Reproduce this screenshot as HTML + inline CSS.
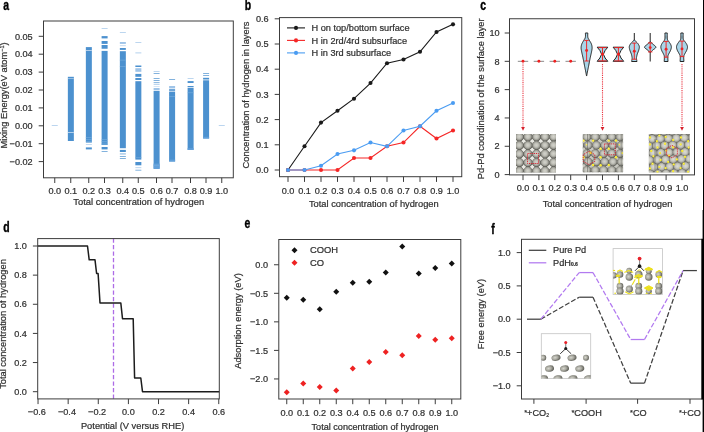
<!DOCTYPE html><html><head><meta charset="utf-8"><title>figure</title><style>html,body{margin:0;padding:0;background:#fff;overflow:hidden}svg{display:block;will-change:transform}text{font-family:"Liberation Sans",sans-serif;fill:#303030;stroke:#303030;stroke-width:0.22px}</style></head><body><svg width="704" height="432" viewBox="0 0 704 432"><rect width="704" height="432" fill="#fff"/>
<defs><radialGradient id="gs" cx="48%" cy="46%" r="52%"><stop offset="0" stop-color="#d4d4cc"/><stop offset="0.45" stop-color="#c0c0b8"/><stop offset="0.75" stop-color="#9a9a92"/><stop offset="1" stop-color="#5c5c56"/></radialGradient><radialGradient id="gs2" cx="40%" cy="45%" r="60%"><stop offset="0" stop-color="#d6d6ce"/><stop offset="0.5" stop-color="#a9a9a0"/><stop offset="1" stop-color="#5c5c55"/></radialGradient><radialGradient id="gs3" cx="48%" cy="46%" r="52%"><stop offset="0" stop-color="#dcdcd4"/><stop offset="0.5" stop-color="#c9c9c1"/><stop offset="0.8" stop-color="#a6a69e"/><stop offset="1" stop-color="#6e6e68"/></radialGradient><radialGradient id="ys" cx="45%" cy="40%" r="60%"><stop offset="0" stop-color="#fff85e"/><stop offset="1" stop-color="#efdc08"/></radialGradient></defs>
<text transform="translate(3.2,9.9) scale(0.72,1)" font-size="14.5" font-weight="bold" style="fill:#000;stroke:#000;stroke-width:0.4px;stroke-linejoin:round">a</text>
<rect x="67.85" y="76.8" width="6" height="64.20" fill="#4c91cf"/>
<rect x="85.85" y="47.1" width="6" height="95.50" fill="#4c91cf"/>
<rect x="85.85" y="144.4" width="6" height="0.60" fill="#9fc4e8"/>
<rect x="85.85" y="147.4" width="6" height="2.00" fill="#4c91cf"/>
<rect x="101.60" y="50.9" width="6" height="94.10" fill="#4c91cf"/>
<rect x="101.60" y="28.0" width="6" height="0.70" fill="#9fc4e8"/>
<rect x="101.60" y="36.1" width="6" height="2.30" fill="#4c91cf"/>
<rect x="101.60" y="41" width="6" height="2.90" fill="#4c91cf"/>
<rect x="101.60" y="45" width="6" height="3.75" fill="#4c91cf"/>
<rect x="101.60" y="147" width="6" height="2.40" fill="#4c91cf"/>
<rect x="101.60" y="151.2" width="6" height="0.70" fill="#4c91cf"/>
<rect x="119.85" y="51.2" width="6" height="97.00" fill="#4c91cf"/>
<rect x="119.85" y="32.1" width="6" height="0.70" fill="#9fc4e8"/>
<rect x="119.85" y="42" width="6" height="1.90" fill="#9fc4e8"/>
<rect x="119.85" y="45.5" width="6" height="0.60" fill="#9fc4e8"/>
<rect x="119.85" y="48" width="6" height="1.90" fill="#4c91cf"/>
<rect x="119.85" y="149.9" width="6" height="2.10" fill="#4c91cf"/>
<rect x="119.85" y="153.6" width="6" height="0.70" fill="#4c91cf"/>
<rect x="119.85" y="156" width="6" height="0.70" fill="#4c91cf"/>
<rect x="119.85" y="158" width="6" height="0.70" fill="#4c91cf"/>
<rect x="135.35" y="81.2" width="6" height="78.40" fill="#4c91cf"/>
<rect x="135.35" y="42.3" width="6" height="0.70" fill="#9fc4e8"/>
<rect x="135.35" y="52.2" width="6" height="1.30" fill="#c5dcf2"/>
<rect x="135.35" y="65.5" width="6" height="1.50" fill="#4c91cf"/>
<rect x="135.35" y="68.2" width="6" height="3.60" fill="#9fc4e8"/>
<rect x="135.35" y="73.9" width="6" height="2.90" fill="#4c91cf"/>
<rect x="135.35" y="78" width="6" height="2.00" fill="#4c91cf"/>
<rect x="135.35" y="162" width="6" height="3.30" fill="#4c91cf"/>
<rect x="135.35" y="167.4" width="6" height="0.70" fill="#9fc4e8"/>
<rect x="135.35" y="169.8" width="6" height="0.70" fill="#4c91cf"/>
<rect x="153.60" y="90.8" width="6" height="78.00" fill="#4c91cf"/>
<rect x="153.60" y="71.1" width="6" height="0.70" fill="#9fc4e8"/>
<rect x="153.60" y="73.2" width="6" height="0.70" fill="#4c91cf"/>
<rect x="153.60" y="78" width="6" height="0.70" fill="#4c91cf"/>
<rect x="153.60" y="80.3" width="6" height="0.70" fill="#4c91cf"/>
<rect x="153.60" y="82.4" width="6" height="0.70" fill="#4c91cf"/>
<rect x="153.60" y="84" width="6" height="0.70" fill="#9fc4e8"/>
<rect x="153.60" y="86" width="6" height="0.70" fill="#c5dcf2"/>
<rect x="153.60" y="88" width="6" height="2.00" fill="#9fc4e8"/>
<rect x="169.10" y="91.6" width="6" height="69.90" fill="#4c91cf"/>
<rect x="169.10" y="79.2" width="6" height="0.70" fill="#4c91cf"/>
<rect x="169.10" y="86" width="6" height="2.40" fill="#9fc4e8"/>
<rect x="169.10" y="89.2" width="6" height="1.60" fill="#4c91cf"/>
<rect x="187.60" y="87.9" width="6" height="62.00" fill="#4c91cf"/>
<rect x="187.60" y="78.3" width="6" height="0.70" fill="#9fc4e8"/>
<rect x="187.60" y="81.1" width="6" height="1.90" fill="#4c91cf"/>
<rect x="187.60" y="86" width="6" height="1.20" fill="#4c91cf"/>
<rect x="203.10" y="80.3" width="6" height="58.20" fill="#4c91cf"/>
<rect x="203.10" y="73" width="6" height="0.70" fill="#4c91cf"/>
<rect x="203.10" y="75.3" width="6" height="0.70" fill="#4c91cf"/>
<rect x="203.10" y="77.8" width="6" height="1.70" fill="#4c91cf"/>
<rect x="67.85" y="78.2" width="6" height="0.50" fill="#dfeaf6"/>
<rect x="67.85" y="132.1" width="6" height="0.70" fill="#dfeaf6"/>
<rect x="85.85" y="50.2" width="6" height="0.70" fill="#dfeaf6"/>
<rect x="85.85" y="137.2" width="6" height="0.60" fill="#77aede"/>
<rect x="85.85" y="139.2" width="6" height="0.60" fill="#77aede"/>
<rect x="85.85" y="141.0" width="6" height="0.60" fill="#77aede"/>
<rect x="101.60" y="139.4" width="6" height="0.60" fill="#77aede"/>
<rect x="101.60" y="141.0" width="6" height="0.60" fill="#77aede"/>
<rect x="101.60" y="142.8" width="6" height="0.60" fill="#77aede"/>
<rect x="101.60" y="144.2" width="6" height="0.50" fill="#77aede"/>
<rect x="119.85" y="59.8" width="6" height="0.60" fill="#77aede"/>
<rect x="119.85" y="66.3" width="6" height="0.60" fill="#77aede"/>
<rect x="153.60" y="163.6" width="6" height="5.20" fill="#62a0da"/>
<rect x="153.60" y="165.5" width="6" height="0.50" fill="#77aede"/>
<rect x="169.10" y="159.6" width="6" height="1.90" fill="#62a0da"/>
<rect x="169.10" y="96.2" width="6" height="0.60" fill="#77aede"/>
<rect x="187.60" y="148.2" width="6" height="1.70" fill="#62a0da"/>
<rect x="187.60" y="92.5" width="6" height="0.60" fill="#77aede"/>
<rect x="203.10" y="136.8" width="6" height="1.70" fill="#62a0da"/>
<rect x="135.35" y="157.5" width="6" height="0.50" fill="#77aede"/>
<rect x="51.75" y="125.15" width="6" height="0.7" fill="#9fc4e8"/>
<rect x="218.75" y="125.15" width="6" height="0.7" fill="#9fc4e8"/>
<rect x="43.5" y="21" width="189.8" height="156.8" fill="none" stroke="#3c3c3c" stroke-width="1"/>
<line x1="54.75" y1="177.8" x2="54.75" y2="183.0" stroke="#3c3c3c" stroke-width="1"/>
<text x="54.75" y="194.2" text-anchor="middle" font-size="9.15">0.0</text>
<line x1="70.75" y1="177.8" x2="70.75" y2="183.0" stroke="#3c3c3c" stroke-width="1"/>
<text x="70.75" y="194.2" text-anchor="middle" font-size="9.15">0.1</text>
<line x1="88.75" y1="177.8" x2="88.75" y2="183.0" stroke="#3c3c3c" stroke-width="1"/>
<text x="88.75" y="194.2" text-anchor="middle" font-size="9.15">0.2</text>
<line x1="104.5" y1="177.8" x2="104.5" y2="183.0" stroke="#3c3c3c" stroke-width="1"/>
<text x="104.5" y="194.2" text-anchor="middle" font-size="9.15">0.3</text>
<line x1="122.75" y1="177.8" x2="122.75" y2="183.0" stroke="#3c3c3c" stroke-width="1"/>
<text x="122.75" y="194.2" text-anchor="middle" font-size="9.15">0.4</text>
<line x1="138.25" y1="177.8" x2="138.25" y2="183.0" stroke="#3c3c3c" stroke-width="1"/>
<text x="138.25" y="194.2" text-anchor="middle" font-size="9.15">0.5</text>
<line x1="156.5" y1="177.8" x2="156.5" y2="183.0" stroke="#3c3c3c" stroke-width="1"/>
<text x="156.5" y="194.2" text-anchor="middle" font-size="9.15">0.6</text>
<line x1="172" y1="177.8" x2="172" y2="183.0" stroke="#3c3c3c" stroke-width="1"/>
<text x="172" y="194.2" text-anchor="middle" font-size="9.15">0.7</text>
<line x1="190.5" y1="177.8" x2="190.5" y2="183.0" stroke="#3c3c3c" stroke-width="1"/>
<text x="190.5" y="194.2" text-anchor="middle" font-size="9.15">0.8</text>
<line x1="206" y1="177.8" x2="206" y2="183.0" stroke="#3c3c3c" stroke-width="1"/>
<text x="206" y="194.2" text-anchor="middle" font-size="9.15">0.9</text>
<line x1="221.75" y1="177.8" x2="221.75" y2="183.0" stroke="#3c3c3c" stroke-width="1"/>
<text x="221.75" y="194.2" text-anchor="middle" font-size="9.15">1.0</text>
<line x1="38.7" y1="36.3" x2="43.5" y2="36.3" stroke="#3c3c3c" stroke-width="1"/>
<text x="32.7" y="39.5" text-anchor="end" font-size="9.15">0.05</text>
<line x1="38.7" y1="54.19999999999999" x2="43.5" y2="54.19999999999999" stroke="#3c3c3c" stroke-width="1"/>
<text x="32.7" y="57.39999999999999" text-anchor="end" font-size="9.15">0.04</text>
<line x1="38.7" y1="72.1" x2="43.5" y2="72.1" stroke="#3c3c3c" stroke-width="1"/>
<text x="32.7" y="75.3" text-anchor="end" font-size="9.15">0.03</text>
<line x1="38.7" y1="90.0" x2="43.5" y2="90.0" stroke="#3c3c3c" stroke-width="1"/>
<text x="32.7" y="93.2" text-anchor="end" font-size="9.15">0.02</text>
<line x1="38.7" y1="107.89999999999999" x2="43.5" y2="107.89999999999999" stroke="#3c3c3c" stroke-width="1"/>
<text x="32.7" y="111.1" text-anchor="end" font-size="9.15">0.01</text>
<line x1="38.7" y1="125.8" x2="43.5" y2="125.8" stroke="#3c3c3c" stroke-width="1"/>
<text x="32.7" y="129.0" text-anchor="end" font-size="9.15">0.00</text>
<line x1="38.7" y1="143.7" x2="43.5" y2="143.7" stroke="#3c3c3c" stroke-width="1"/>
<text x="32.7" y="146.89999999999998" text-anchor="end" font-size="9.15">−0.01</text>
<line x1="38.7" y1="161.6" x2="43.5" y2="161.6" stroke="#3c3c3c" stroke-width="1"/>
<text x="32.7" y="164.79999999999998" text-anchor="end" font-size="9.15">−0.02</text>
<text x="138.7" y="204.9" text-anchor="middle" font-size="9.4">Total concentration of hydrogen</text>
<text transform="translate(7.0,95.4) rotate(-90)" text-anchor="middle" font-size="9.3">Mixing Energy(eV atom<tspan font-size="5.5" dy="-3">−1</tspan><tspan dy="3">)</tspan></text>
<text transform="translate(244.8,9.8) scale(0.72,1)" font-size="14.5" font-weight="bold" style="fill:#000;stroke:#000;stroke-width:0.4px;stroke-linejoin:round">b</text>
<polyline points="288.00,170.00 304.50,146.31 321.00,122.62 337.50,110.78 354.00,98.68 370.50,83.06 387.00,63.25 403.50,59.50 420.00,51.81 436.50,32.00 453.00,24.34" fill="none" stroke="#1a1a1a" stroke-width="1.1"/>
<circle cx="288.00" cy="170.00" r="2.05" fill="#1a1a1a"/>
<circle cx="304.50" cy="146.31" r="2.05" fill="#1a1a1a"/>
<circle cx="321.00" cy="122.62" r="2.05" fill="#1a1a1a"/>
<circle cx="337.50" cy="110.78" r="2.05" fill="#1a1a1a"/>
<circle cx="354.00" cy="98.68" r="2.05" fill="#1a1a1a"/>
<circle cx="370.50" cy="83.06" r="2.05" fill="#1a1a1a"/>
<circle cx="387.00" cy="63.25" r="2.05" fill="#1a1a1a"/>
<circle cx="403.50" cy="59.50" r="2.05" fill="#1a1a1a"/>
<circle cx="420.00" cy="51.81" r="2.05" fill="#1a1a1a"/>
<circle cx="436.50" cy="32.00" r="2.05" fill="#1a1a1a"/>
<circle cx="453.00" cy="24.34" r="2.05" fill="#1a1a1a"/>
<polyline points="288.00,170.00 304.50,170.00 321.00,170.00 337.50,170.00 354.00,158.00 370.50,158.00 387.00,146.31 403.50,142.53 420.00,126.25 436.50,138.50 453.00,130.44" fill="none" stroke="#f52626" stroke-width="1.1"/>
<circle cx="288.00" cy="170.00" r="2.05" fill="#f52626"/>
<circle cx="304.50" cy="170.00" r="2.05" fill="#f52626"/>
<circle cx="321.00" cy="170.00" r="2.05" fill="#f52626"/>
<circle cx="337.50" cy="170.00" r="2.05" fill="#f52626"/>
<circle cx="354.00" cy="158.00" r="2.05" fill="#f52626"/>
<circle cx="370.50" cy="158.00" r="2.05" fill="#f52626"/>
<circle cx="387.00" cy="146.31" r="2.05" fill="#f52626"/>
<circle cx="403.50" cy="142.53" r="2.05" fill="#f52626"/>
<circle cx="420.00" cy="126.25" r="2.05" fill="#f52626"/>
<circle cx="436.50" cy="138.50" r="2.05" fill="#f52626"/>
<circle cx="453.00" cy="130.44" r="2.05" fill="#f52626"/>
<polyline points="288.00,170.00 304.50,170.00 321.00,165.72 337.50,154.00 354.00,150.34 370.50,142.53 387.00,146.31 403.50,130.44 420.00,126.25 436.50,110.78 453.00,102.97" fill="none" stroke="#4a9cf2" stroke-width="1.1"/>
<circle cx="288.00" cy="170.00" r="2.05" fill="#4a9cf2"/>
<circle cx="304.50" cy="170.00" r="2.05" fill="#4a9cf2"/>
<circle cx="321.00" cy="165.72" r="2.05" fill="#4a9cf2"/>
<circle cx="337.50" cy="154.00" r="2.05" fill="#4a9cf2"/>
<circle cx="354.00" cy="150.34" r="2.05" fill="#4a9cf2"/>
<circle cx="370.50" cy="142.53" r="2.05" fill="#4a9cf2"/>
<circle cx="387.00" cy="146.31" r="2.05" fill="#4a9cf2"/>
<circle cx="403.50" cy="130.44" r="2.05" fill="#4a9cf2"/>
<circle cx="420.00" cy="126.25" r="2.05" fill="#4a9cf2"/>
<circle cx="436.50" cy="110.78" r="2.05" fill="#4a9cf2"/>
<circle cx="453.00" cy="102.97" r="2.05" fill="#4a9cf2"/>
<rect x="279.5" y="17.6" width="182.25" height="159.1" fill="none" stroke="#3c3c3c" stroke-width="1"/>
<line x1="288.0" y1="176.7" x2="288.0" y2="181.89999999999998" stroke="#3c3c3c" stroke-width="1"/>
<text x="288.0" y="194.0" text-anchor="middle" font-size="9.15">0.0</text>
<line x1="304.5" y1="176.7" x2="304.5" y2="181.89999999999998" stroke="#3c3c3c" stroke-width="1"/>
<text x="304.5" y="194.0" text-anchor="middle" font-size="9.15">0.1</text>
<line x1="321.0" y1="176.7" x2="321.0" y2="181.89999999999998" stroke="#3c3c3c" stroke-width="1"/>
<text x="321.0" y="194.0" text-anchor="middle" font-size="9.15">0.2</text>
<line x1="337.5" y1="176.7" x2="337.5" y2="181.89999999999998" stroke="#3c3c3c" stroke-width="1"/>
<text x="337.5" y="194.0" text-anchor="middle" font-size="9.15">0.3</text>
<line x1="354.0" y1="176.7" x2="354.0" y2="181.89999999999998" stroke="#3c3c3c" stroke-width="1"/>
<text x="354.0" y="194.0" text-anchor="middle" font-size="9.15">0.4</text>
<line x1="370.5" y1="176.7" x2="370.5" y2="181.89999999999998" stroke="#3c3c3c" stroke-width="1"/>
<text x="370.5" y="194.0" text-anchor="middle" font-size="9.15">0.5</text>
<line x1="387.0" y1="176.7" x2="387.0" y2="181.89999999999998" stroke="#3c3c3c" stroke-width="1"/>
<text x="387.0" y="194.0" text-anchor="middle" font-size="9.15">0.6</text>
<line x1="403.5" y1="176.7" x2="403.5" y2="181.89999999999998" stroke="#3c3c3c" stroke-width="1"/>
<text x="403.5" y="194.0" text-anchor="middle" font-size="9.15">0.7</text>
<line x1="420.0" y1="176.7" x2="420.0" y2="181.89999999999998" stroke="#3c3c3c" stroke-width="1"/>
<text x="420.0" y="194.0" text-anchor="middle" font-size="9.15">0.8</text>
<line x1="436.5" y1="176.7" x2="436.5" y2="181.89999999999998" stroke="#3c3c3c" stroke-width="1"/>
<text x="436.5" y="194.0" text-anchor="middle" font-size="9.15">0.9</text>
<line x1="453.0" y1="176.7" x2="453.0" y2="181.89999999999998" stroke="#3c3c3c" stroke-width="1"/>
<text x="453.0" y="194.0" text-anchor="middle" font-size="9.15">1.0</text>
<line x1="274.7" y1="18.80000000000001" x2="279.5" y2="18.80000000000001" stroke="#3c3c3c" stroke-width="1"/>
<text x="268.7" y="22.00000000000001" text-anchor="end" font-size="9.15">0.6</text>
<line x1="274.7" y1="44.0" x2="279.5" y2="44.0" stroke="#3c3c3c" stroke-width="1"/>
<text x="268.7" y="47.2" text-anchor="end" font-size="9.15">0.5</text>
<line x1="274.7" y1="69.19999999999999" x2="279.5" y2="69.19999999999999" stroke="#3c3c3c" stroke-width="1"/>
<text x="268.7" y="72.39999999999999" text-anchor="end" font-size="9.15">0.4</text>
<line x1="274.7" y1="94.4" x2="279.5" y2="94.4" stroke="#3c3c3c" stroke-width="1"/>
<text x="268.7" y="97.60000000000001" text-anchor="end" font-size="9.15">0.3</text>
<line x1="274.7" y1="119.6" x2="279.5" y2="119.6" stroke="#3c3c3c" stroke-width="1"/>
<text x="268.7" y="122.8" text-anchor="end" font-size="9.15">0.2</text>
<line x1="274.7" y1="144.8" x2="279.5" y2="144.8" stroke="#3c3c3c" stroke-width="1"/>
<text x="268.7" y="148.0" text-anchor="end" font-size="9.15">0.1</text>
<line x1="274.7" y1="170.0" x2="279.5" y2="170.0" stroke="#3c3c3c" stroke-width="1"/>
<text x="268.7" y="173.2" text-anchor="end" font-size="9.15">0.0</text>
<text x="373.8" y="207.0" text-anchor="middle" font-size="9.3">Total concentration of hydrogen</text>
<text transform="translate(248.6,95) rotate(-90)" text-anchor="middle" font-size="9.3">Concentration of hydrogen in layers</text>
<line x1="287" y1="27.9" x2="305" y2="27.9" stroke="#1a1a1a" stroke-width="1.1"/>
<circle cx="296" cy="27.9" r="2.05" fill="#1a1a1a"/>
<text x="311.5" y="31.2" font-size="9.2">H on top/bottom surface</text>
<line x1="287" y1="40.4" x2="305" y2="40.4" stroke="#f52626" stroke-width="1.1"/>
<circle cx="296" cy="40.4" r="2.05" fill="#f52626"/>
<text x="311.5" y="43.699999999999996" font-size="9.2">H in 2rd/4rd subsurface</text>
<line x1="287" y1="52.9" x2="305" y2="52.9" stroke="#4a9cf2" stroke-width="1.1"/>
<circle cx="296" cy="52.9" r="2.05" fill="#4a9cf2"/>
<text x="311.5" y="56.199999999999996" font-size="9.2">H in 3rd subsurface</text>
<text transform="translate(480.2,9.8) scale(0.72,1)" font-size="14.5" font-weight="bold" style="fill:#000;stroke:#000;stroke-width:0.4px;stroke-linejoin:round">c</text>
<clipPath id="c1"><rect x="516" y="134" width="40" height="38.5"/></clipPath>
<g clip-path="url(#c1)"><rect x="516" y="134" width="40" height="38.5" fill="#6c6c66"/>
<path d="M512.52,132.62 L515.12,130.03 L517.73,132.62 L515.12,135.22 Z" fill="#e9e9e3"/>
<path d="M512.52,141.18 L515.12,138.58 L517.73,141.18 L515.12,143.78 Z" fill="#e9e9e3"/>
<path d="M512.52,149.73 L515.12,147.13 L517.73,149.73 L515.12,152.33 Z" fill="#e9e9e3"/>
<path d="M512.52,158.28 L515.12,155.68 L517.73,158.28 L515.12,160.88 Z" fill="#e9e9e3"/>
<path d="M512.52,166.83 L515.12,164.23 L517.73,166.83 L515.12,169.43 Z" fill="#e9e9e3"/>
<path d="M512.52,175.38 L515.12,172.78 L517.73,175.38 L515.12,177.98 Z" fill="#e9e9e3"/>
<path d="M512.52,183.93 L515.12,181.33 L517.73,183.93 L515.12,186.53 Z" fill="#e9e9e3"/>
<path d="M521.07,132.62 L523.67,130.03 L526.27,132.62 L523.67,135.22 Z" fill="#e9e9e3"/>
<path d="M521.07,141.18 L523.67,138.58 L526.27,141.18 L523.67,143.78 Z" fill="#e9e9e3"/>
<path d="M521.07,149.73 L523.67,147.13 L526.27,149.73 L523.67,152.33 Z" fill="#e9e9e3"/>
<path d="M521.07,158.28 L523.67,155.68 L526.27,158.28 L523.67,160.88 Z" fill="#e9e9e3"/>
<path d="M521.07,166.83 L523.67,164.23 L526.27,166.83 L523.67,169.43 Z" fill="#e9e9e3"/>
<path d="M521.07,175.38 L523.67,172.78 L526.27,175.38 L523.67,177.98 Z" fill="#e9e9e3"/>
<path d="M521.07,183.93 L523.67,181.33 L526.27,183.93 L523.67,186.53 Z" fill="#e9e9e3"/>
<path d="M529.62,132.62 L532.22,130.03 L534.82,132.62 L532.22,135.22 Z" fill="#e9e9e3"/>
<path d="M529.62,141.18 L532.22,138.58 L534.82,141.18 L532.22,143.78 Z" fill="#e9e9e3"/>
<path d="M529.62,149.73 L532.22,147.13 L534.82,149.73 L532.22,152.33 Z" fill="#e9e9e3"/>
<path d="M529.62,158.28 L532.22,155.68 L534.82,158.28 L532.22,160.88 Z" fill="#e9e9e3"/>
<path d="M529.62,166.83 L532.22,164.23 L534.82,166.83 L532.22,169.43 Z" fill="#e9e9e3"/>
<path d="M529.62,175.38 L532.22,172.78 L534.82,175.38 L532.22,177.98 Z" fill="#e9e9e3"/>
<path d="M529.62,183.93 L532.22,181.33 L534.82,183.93 L532.22,186.53 Z" fill="#e9e9e3"/>
<path d="M538.17,132.62 L540.77,130.03 L543.38,132.62 L540.77,135.22 Z" fill="#e9e9e3"/>
<path d="M538.17,141.18 L540.77,138.58 L543.38,141.18 L540.77,143.78 Z" fill="#e9e9e3"/>
<path d="M538.17,149.73 L540.77,147.13 L543.38,149.73 L540.77,152.33 Z" fill="#e9e9e3"/>
<path d="M538.17,158.28 L540.77,155.68 L543.38,158.28 L540.77,160.88 Z" fill="#e9e9e3"/>
<path d="M538.17,166.83 L540.77,164.23 L543.38,166.83 L540.77,169.43 Z" fill="#e9e9e3"/>
<path d="M538.17,175.38 L540.77,172.78 L543.38,175.38 L540.77,177.98 Z" fill="#e9e9e3"/>
<path d="M538.17,183.93 L540.77,181.33 L543.38,183.93 L540.77,186.53 Z" fill="#e9e9e3"/>
<path d="M546.72,132.62 L549.32,130.03 L551.92,132.62 L549.32,135.22 Z" fill="#e9e9e3"/>
<path d="M546.72,141.18 L549.32,138.58 L551.92,141.18 L549.32,143.78 Z" fill="#e9e9e3"/>
<path d="M546.72,149.73 L549.32,147.13 L551.92,149.73 L549.32,152.33 Z" fill="#e9e9e3"/>
<path d="M546.72,158.28 L549.32,155.68 L551.92,158.28 L549.32,160.88 Z" fill="#e9e9e3"/>
<path d="M546.72,166.83 L549.32,164.23 L551.92,166.83 L549.32,169.43 Z" fill="#e9e9e3"/>
<path d="M546.72,175.38 L549.32,172.78 L551.92,175.38 L549.32,177.98 Z" fill="#e9e9e3"/>
<path d="M546.72,183.93 L549.32,181.33 L551.92,183.93 L549.32,186.53 Z" fill="#e9e9e3"/>
<path d="M555.27,132.62 L557.88,130.03 L560.48,132.62 L557.88,135.22 Z" fill="#e9e9e3"/>
<path d="M555.27,141.18 L557.88,138.58 L560.48,141.18 L557.88,143.78 Z" fill="#e9e9e3"/>
<path d="M555.27,149.73 L557.88,147.13 L560.48,149.73 L557.88,152.33 Z" fill="#e9e9e3"/>
<path d="M555.27,158.28 L557.88,155.68 L560.48,158.28 L557.88,160.88 Z" fill="#e9e9e3"/>
<path d="M555.27,166.83 L557.88,164.23 L560.48,166.83 L557.88,169.43 Z" fill="#e9e9e3"/>
<path d="M555.27,175.38 L557.88,172.78 L560.48,175.38 L557.88,177.98 Z" fill="#e9e9e3"/>
<path d="M555.27,183.93 L557.88,181.33 L560.48,183.93 L557.88,186.53 Z" fill="#e9e9e3"/>
<path d="M563.82,132.62 L566.42,130.03 L569.02,132.62 L566.42,135.22 Z" fill="#e9e9e3"/>
<path d="M563.82,141.18 L566.42,138.58 L569.02,141.18 L566.42,143.78 Z" fill="#e9e9e3"/>
<path d="M563.82,149.73 L566.42,147.13 L569.02,149.73 L566.42,152.33 Z" fill="#e9e9e3"/>
<path d="M563.82,158.28 L566.42,155.68 L569.02,158.28 L566.42,160.88 Z" fill="#e9e9e3"/>
<path d="M563.82,166.83 L566.42,164.23 L569.02,166.83 L566.42,169.43 Z" fill="#e9e9e3"/>
<path d="M563.82,175.38 L566.42,172.78 L569.02,175.38 L566.42,177.98 Z" fill="#e9e9e3"/>
<path d="M563.82,183.93 L566.42,181.33 L569.02,183.93 L566.42,186.53 Z" fill="#e9e9e3"/>
<circle cx="510.85" cy="128.35" r="4.35" fill="url(#gs)"/>
<circle cx="510.85" cy="136.90" r="4.35" fill="url(#gs)"/>
<circle cx="510.85" cy="145.45" r="4.35" fill="url(#gs)"/>
<circle cx="510.85" cy="154.00" r="4.35" fill="url(#gs)"/>
<circle cx="510.85" cy="162.55" r="4.35" fill="url(#gs)"/>
<circle cx="510.85" cy="171.10" r="4.35" fill="url(#gs)"/>
<circle cx="510.85" cy="179.65" r="4.35" fill="url(#gs)"/>
<circle cx="519.40" cy="128.35" r="4.35" fill="url(#gs)"/>
<circle cx="519.40" cy="136.90" r="4.35" fill="url(#gs)"/>
<circle cx="519.40" cy="145.45" r="4.35" fill="url(#gs)"/>
<circle cx="519.40" cy="154.00" r="4.35" fill="url(#gs)"/>
<circle cx="519.40" cy="162.55" r="4.35" fill="url(#gs)"/>
<circle cx="519.40" cy="171.10" r="4.35" fill="url(#gs)"/>
<circle cx="519.40" cy="179.65" r="4.35" fill="url(#gs)"/>
<circle cx="527.95" cy="128.35" r="4.35" fill="url(#gs)"/>
<circle cx="527.95" cy="136.90" r="4.35" fill="url(#gs)"/>
<circle cx="527.95" cy="145.45" r="4.35" fill="url(#gs)"/>
<circle cx="527.95" cy="154.00" r="4.35" fill="url(#gs)"/>
<circle cx="527.95" cy="162.55" r="4.35" fill="url(#gs)"/>
<circle cx="527.95" cy="171.10" r="4.35" fill="url(#gs)"/>
<circle cx="527.95" cy="179.65" r="4.35" fill="url(#gs)"/>
<circle cx="536.50" cy="128.35" r="4.35" fill="url(#gs)"/>
<circle cx="536.50" cy="136.90" r="4.35" fill="url(#gs)"/>
<circle cx="536.50" cy="145.45" r="4.35" fill="url(#gs)"/>
<circle cx="536.50" cy="154.00" r="4.35" fill="url(#gs)"/>
<circle cx="536.50" cy="162.55" r="4.35" fill="url(#gs)"/>
<circle cx="536.50" cy="171.10" r="4.35" fill="url(#gs)"/>
<circle cx="536.50" cy="179.65" r="4.35" fill="url(#gs)"/>
<circle cx="545.05" cy="128.35" r="4.35" fill="url(#gs)"/>
<circle cx="545.05" cy="136.90" r="4.35" fill="url(#gs)"/>
<circle cx="545.05" cy="145.45" r="4.35" fill="url(#gs)"/>
<circle cx="545.05" cy="154.00" r="4.35" fill="url(#gs)"/>
<circle cx="545.05" cy="162.55" r="4.35" fill="url(#gs)"/>
<circle cx="545.05" cy="171.10" r="4.35" fill="url(#gs)"/>
<circle cx="545.05" cy="179.65" r="4.35" fill="url(#gs)"/>
<circle cx="553.60" cy="128.35" r="4.35" fill="url(#gs)"/>
<circle cx="553.60" cy="136.90" r="4.35" fill="url(#gs)"/>
<circle cx="553.60" cy="145.45" r="4.35" fill="url(#gs)"/>
<circle cx="553.60" cy="154.00" r="4.35" fill="url(#gs)"/>
<circle cx="553.60" cy="162.55" r="4.35" fill="url(#gs)"/>
<circle cx="553.60" cy="171.10" r="4.35" fill="url(#gs)"/>
<circle cx="553.60" cy="179.65" r="4.35" fill="url(#gs)"/>
<circle cx="562.15" cy="128.35" r="4.35" fill="url(#gs)"/>
<circle cx="562.15" cy="136.90" r="4.35" fill="url(#gs)"/>
<circle cx="562.15" cy="145.45" r="4.35" fill="url(#gs)"/>
<circle cx="562.15" cy="154.00" r="4.35" fill="url(#gs)"/>
<circle cx="562.15" cy="162.55" r="4.35" fill="url(#gs)"/>
<circle cx="562.15" cy="171.10" r="4.35" fill="url(#gs)"/>
<circle cx="562.15" cy="179.65" r="4.35" fill="url(#gs)"/>
</g>
<rect x="527.5" y="153.5" width="11" height="10" fill="none" stroke="#d42a36" stroke-width="1" stroke-dasharray="1.2,0.9"/>
<clipPath id="c2"><rect x="582.8" y="134" width="40.30000000000007" height="38.30000000000001"/></clipPath>
<g clip-path="url(#c2)"><rect x="582.8" y="134" width="40.30000000000007" height="38.30000000000001" fill="#6c6c66"/>
<circle cx="583.35" cy="132.85" r="2.5" fill="#c9c9c1"/>
<circle cx="583.35" cy="141.15" r="2.5" fill="#c9c9c1"/>
<circle cx="583.35" cy="149.45" r="2.5" fill="#c9c9c1"/>
<circle cx="583.35" cy="157.75" r="2.5" fill="#c9c9c1"/>
<circle cx="583.35" cy="166.05" r="2.5" fill="#c9c9c1"/>
<circle cx="583.35" cy="174.35" r="2.5" fill="#c9c9c1"/>
<circle cx="583.35" cy="182.65" r="2.5" fill="#c9c9c1"/>
<circle cx="591.65" cy="132.85" r="2.5" fill="#c9c9c1"/>
<circle cx="591.65" cy="141.15" r="2.5" fill="#c9c9c1"/>
<circle cx="591.65" cy="149.45" r="2.5" fill="#c9c9c1"/>
<circle cx="591.65" cy="157.75" r="2.5" fill="#c9c9c1"/>
<circle cx="591.65" cy="166.05" r="2.5" fill="#c9c9c1"/>
<circle cx="591.65" cy="174.35" r="2.5" fill="#c9c9c1"/>
<circle cx="591.65" cy="182.65" r="2.5" fill="#c9c9c1"/>
<circle cx="599.95" cy="132.85" r="2.5" fill="#c9c9c1"/>
<circle cx="599.95" cy="141.15" r="2.5" fill="#c9c9c1"/>
<circle cx="599.95" cy="149.45" r="2.5" fill="#c9c9c1"/>
<circle cx="599.95" cy="157.75" r="2.5" fill="#c9c9c1"/>
<circle cx="599.95" cy="166.05" r="2.5" fill="#c9c9c1"/>
<circle cx="599.95" cy="174.35" r="2.5" fill="#c9c9c1"/>
<circle cx="599.95" cy="182.65" r="2.5" fill="#c9c9c1"/>
<circle cx="608.25" cy="132.85" r="2.5" fill="#c9c9c1"/>
<circle cx="608.25" cy="141.15" r="2.5" fill="#c9c9c1"/>
<circle cx="608.25" cy="149.45" r="2.5" fill="#c9c9c1"/>
<circle cx="608.25" cy="157.75" r="2.5" fill="#c9c9c1"/>
<circle cx="608.25" cy="166.05" r="2.5" fill="#c9c9c1"/>
<circle cx="608.25" cy="174.35" r="2.5" fill="#c9c9c1"/>
<circle cx="608.25" cy="182.65" r="2.5" fill="#c9c9c1"/>
<circle cx="616.55" cy="132.85" r="2.5" fill="#c9c9c1"/>
<circle cx="616.55" cy="141.15" r="2.5" fill="#c9c9c1"/>
<circle cx="616.55" cy="149.45" r="2.5" fill="#c9c9c1"/>
<circle cx="616.55" cy="157.75" r="2.5" fill="#c9c9c1"/>
<circle cx="616.55" cy="166.05" r="2.5" fill="#c9c9c1"/>
<circle cx="616.55" cy="174.35" r="2.5" fill="#c9c9c1"/>
<circle cx="616.55" cy="182.65" r="2.5" fill="#c9c9c1"/>
<circle cx="624.85" cy="132.85" r="2.5" fill="#c9c9c1"/>
<circle cx="624.85" cy="141.15" r="2.5" fill="#c9c9c1"/>
<circle cx="624.85" cy="149.45" r="2.5" fill="#c9c9c1"/>
<circle cx="624.85" cy="157.75" r="2.5" fill="#c9c9c1"/>
<circle cx="624.85" cy="166.05" r="2.5" fill="#c9c9c1"/>
<circle cx="624.85" cy="174.35" r="2.5" fill="#c9c9c1"/>
<circle cx="624.85" cy="182.65" r="2.5" fill="#c9c9c1"/>
<circle cx="633.15" cy="132.85" r="2.5" fill="#c9c9c1"/>
<circle cx="633.15" cy="141.15" r="2.5" fill="#c9c9c1"/>
<circle cx="633.15" cy="149.45" r="2.5" fill="#c9c9c1"/>
<circle cx="633.15" cy="157.75" r="2.5" fill="#c9c9c1"/>
<circle cx="633.15" cy="166.05" r="2.5" fill="#c9c9c1"/>
<circle cx="633.15" cy="174.35" r="2.5" fill="#c9c9c1"/>
<circle cx="633.15" cy="182.65" r="2.5" fill="#c9c9c1"/>
<circle cx="579.80" cy="128.70" r="4.3" fill="url(#gs)"/>
<circle cx="578.60" cy="137.00" r="4.3" fill="url(#gs)"/>
<circle cx="579.80" cy="145.30" r="4.3" fill="url(#gs)"/>
<circle cx="578.60" cy="153.60" r="4.3" fill="url(#gs)"/>
<circle cx="579.80" cy="161.90" r="4.3" fill="url(#gs)"/>
<circle cx="578.60" cy="170.20" r="4.3" fill="url(#gs)"/>
<circle cx="579.80" cy="178.50" r="4.3" fill="url(#gs)"/>
<circle cx="588.10" cy="128.70" r="4.3" fill="url(#gs)"/>
<circle cx="586.90" cy="137.00" r="4.3" fill="url(#gs)"/>
<circle cx="588.10" cy="145.30" r="4.3" fill="url(#gs)"/>
<circle cx="586.90" cy="153.60" r="4.3" fill="url(#gs)"/>
<circle cx="588.10" cy="161.90" r="4.3" fill="url(#gs)"/>
<circle cx="586.90" cy="170.20" r="4.3" fill="url(#gs)"/>
<circle cx="588.10" cy="178.50" r="4.3" fill="url(#gs)"/>
<circle cx="596.40" cy="128.70" r="4.3" fill="url(#gs)"/>
<circle cx="595.20" cy="137.00" r="4.3" fill="url(#gs)"/>
<circle cx="596.40" cy="145.30" r="4.3" fill="url(#gs)"/>
<circle cx="595.20" cy="153.60" r="4.3" fill="url(#gs)"/>
<circle cx="596.40" cy="161.90" r="4.3" fill="url(#gs)"/>
<circle cx="595.20" cy="170.20" r="4.3" fill="url(#gs)"/>
<circle cx="596.40" cy="178.50" r="4.3" fill="url(#gs)"/>
<circle cx="604.70" cy="128.70" r="4.3" fill="url(#gs)"/>
<circle cx="603.50" cy="137.00" r="4.3" fill="url(#gs)"/>
<circle cx="604.70" cy="145.30" r="4.3" fill="url(#gs)"/>
<circle cx="603.50" cy="153.60" r="4.3" fill="url(#gs)"/>
<circle cx="604.70" cy="161.90" r="4.3" fill="url(#gs)"/>
<circle cx="603.50" cy="170.20" r="4.3" fill="url(#gs)"/>
<circle cx="604.70" cy="178.50" r="4.3" fill="url(#gs)"/>
<circle cx="613.00" cy="128.70" r="4.3" fill="url(#gs)"/>
<circle cx="611.80" cy="137.00" r="4.3" fill="url(#gs)"/>
<circle cx="613.00" cy="145.30" r="4.3" fill="url(#gs)"/>
<circle cx="611.80" cy="153.60" r="4.3" fill="url(#gs)"/>
<circle cx="613.00" cy="161.90" r="4.3" fill="url(#gs)"/>
<circle cx="611.80" cy="170.20" r="4.3" fill="url(#gs)"/>
<circle cx="613.00" cy="178.50" r="4.3" fill="url(#gs)"/>
<circle cx="621.30" cy="128.70" r="4.3" fill="url(#gs)"/>
<circle cx="620.10" cy="137.00" r="4.3" fill="url(#gs)"/>
<circle cx="621.30" cy="145.30" r="4.3" fill="url(#gs)"/>
<circle cx="620.10" cy="153.60" r="4.3" fill="url(#gs)"/>
<circle cx="621.30" cy="161.90" r="4.3" fill="url(#gs)"/>
<circle cx="620.10" cy="170.20" r="4.3" fill="url(#gs)"/>
<circle cx="621.30" cy="178.50" r="4.3" fill="url(#gs)"/>
<circle cx="629.60" cy="128.70" r="4.3" fill="url(#gs)"/>
<circle cx="628.40" cy="137.00" r="4.3" fill="url(#gs)"/>
<circle cx="629.60" cy="145.30" r="4.3" fill="url(#gs)"/>
<circle cx="628.40" cy="153.60" r="4.3" fill="url(#gs)"/>
<circle cx="629.60" cy="161.90" r="4.3" fill="url(#gs)"/>
<circle cx="628.40" cy="170.20" r="4.3" fill="url(#gs)"/>
<circle cx="629.60" cy="178.50" r="4.3" fill="url(#gs)"/>
<line x1="587.5" y1="134" x2="587.5" y2="172.3" stroke="#5a5a55" stroke-width="0.5"/>
<line x1="621.2" y1="134" x2="621.2" y2="172.3" stroke="#5a5a55" stroke-width="0.5"/>
<circle cx="583.50" cy="140.62" r="1.2" fill="url(#ys)"/>
<circle cx="593.12" cy="140.62" r="1.2" fill="url(#ys)"/>
<circle cx="608.75" cy="140.62" r="1.2" fill="url(#ys)"/>
<circle cx="616.00" cy="140.62" r="1.2" fill="url(#ys)"/>
<circle cx="586.50" cy="144.75" r="0.8" fill="url(#ys)"/>
<circle cx="619.38" cy="144.75" r="0.8" fill="url(#ys)"/>
<circle cx="600.62" cy="148.75" r="1.2" fill="url(#ys)"/>
<circle cx="608.75" cy="148.75" r="1.2" fill="url(#ys)"/>
<circle cx="590.62" cy="152.75" r="1.2" fill="url(#ys)"/>
<circle cx="622.25" cy="153.12" r="0.8" fill="url(#ys)"/>
<circle cx="583.50" cy="157.25" r="1.2" fill="url(#ys)"/>
<circle cx="600.62" cy="157.25" r="1.2" fill="url(#ys)"/>
<circle cx="616.00" cy="157.25" r="1.2" fill="url(#ys)"/>
<circle cx="593.12" cy="165.00" r="1.2" fill="url(#ys)"/>
<circle cx="600.62" cy="165.25" r="1.2" fill="url(#ys)"/>
<circle cx="608.75" cy="165.00" r="1.2" fill="url(#ys)"/>
</g>
<rect x="604.4" y="143.9" width="10.9" height="10.9" fill="none" stroke="#d42a36" stroke-width="1" stroke-dasharray="1.2,0.9"/>
<polygon points="594.80,161.35 589.00,164.70 583.20,161.35 583.20,154.65 589.00,151.30 594.80,154.65" fill="none" stroke="#d42a36" stroke-width="1" stroke-dasharray="1.2,0.9"/>
<clipPath id="c3"><rect x="648.8" y="134" width="41.0" height="38.5"/></clipPath>
<g clip-path="url(#c3)"><rect x="648.8" y="134" width="41.0" height="38.5" fill="#74746e"/>
<circle cx="631.30" cy="118.42" r="4.2" fill="url(#gs3)"/>
<circle cx="635.65" cy="125.46" r="4.2" fill="url(#gs3)"/>
<circle cx="632.00" cy="132.50" r="4.2" fill="url(#gs3)"/>
<circle cx="636.35" cy="139.54" r="4.2" fill="url(#gs3)"/>
<circle cx="632.70" cy="146.58" r="4.2" fill="url(#gs3)"/>
<circle cx="637.05" cy="153.62" r="4.2" fill="url(#gs3)"/>
<circle cx="633.40" cy="160.66" r="4.2" fill="url(#gs3)"/>
<circle cx="637.75" cy="167.70" r="4.2" fill="url(#gs3)"/>
<circle cx="634.10" cy="174.74" r="4.2" fill="url(#gs3)"/>
<circle cx="638.45" cy="181.78" r="4.2" fill="url(#gs3)"/>
<circle cx="639.30" cy="118.17" r="4.2" fill="url(#gs3)"/>
<circle cx="643.65" cy="125.21" r="4.2" fill="url(#gs3)"/>
<circle cx="640.00" cy="132.25" r="4.2" fill="url(#gs3)"/>
<circle cx="644.35" cy="139.29" r="4.2" fill="url(#gs3)"/>
<circle cx="640.70" cy="146.33" r="4.2" fill="url(#gs3)"/>
<circle cx="645.05" cy="153.37" r="4.2" fill="url(#gs3)"/>
<circle cx="641.40" cy="160.41" r="4.2" fill="url(#gs3)"/>
<circle cx="645.75" cy="167.45" r="4.2" fill="url(#gs3)"/>
<circle cx="642.10" cy="174.49" r="4.2" fill="url(#gs3)"/>
<circle cx="646.45" cy="181.53" r="4.2" fill="url(#gs3)"/>
<circle cx="647.30" cy="117.92" r="4.2" fill="url(#gs3)"/>
<circle cx="651.65" cy="124.96" r="4.2" fill="url(#gs3)"/>
<circle cx="648.00" cy="132.00" r="4.2" fill="url(#gs3)"/>
<circle cx="652.35" cy="139.04" r="4.2" fill="url(#gs3)"/>
<circle cx="648.70" cy="146.08" r="4.2" fill="url(#gs3)"/>
<circle cx="653.05" cy="153.12" r="4.2" fill="url(#gs3)"/>
<circle cx="649.40" cy="160.16" r="4.2" fill="url(#gs3)"/>
<circle cx="653.75" cy="167.20" r="4.2" fill="url(#gs3)"/>
<circle cx="650.10" cy="174.24" r="4.2" fill="url(#gs3)"/>
<circle cx="654.45" cy="181.28" r="4.2" fill="url(#gs3)"/>
<circle cx="655.30" cy="117.67" r="4.2" fill="url(#gs3)"/>
<circle cx="659.65" cy="124.71" r="4.2" fill="url(#gs3)"/>
<circle cx="656.00" cy="131.75" r="4.2" fill="url(#gs3)"/>
<circle cx="660.35" cy="138.79" r="4.2" fill="url(#gs3)"/>
<circle cx="656.70" cy="145.83" r="4.2" fill="url(#gs3)"/>
<circle cx="661.05" cy="152.87" r="4.2" fill="url(#gs3)"/>
<circle cx="657.40" cy="159.91" r="4.2" fill="url(#gs3)"/>
<circle cx="661.75" cy="166.95" r="4.2" fill="url(#gs3)"/>
<circle cx="658.10" cy="173.99" r="4.2" fill="url(#gs3)"/>
<circle cx="662.45" cy="181.03" r="4.2" fill="url(#gs3)"/>
<circle cx="663.30" cy="117.42" r="4.2" fill="url(#gs3)"/>
<circle cx="667.65" cy="124.46" r="4.2" fill="url(#gs3)"/>
<circle cx="664.00" cy="131.50" r="4.2" fill="url(#gs3)"/>
<circle cx="668.35" cy="138.54" r="4.2" fill="url(#gs3)"/>
<circle cx="664.70" cy="145.58" r="4.2" fill="url(#gs3)"/>
<circle cx="669.05" cy="152.62" r="4.2" fill="url(#gs3)"/>
<circle cx="665.40" cy="159.66" r="4.2" fill="url(#gs3)"/>
<circle cx="669.75" cy="166.70" r="4.2" fill="url(#gs3)"/>
<circle cx="666.10" cy="173.74" r="4.2" fill="url(#gs3)"/>
<circle cx="670.45" cy="180.78" r="4.2" fill="url(#gs3)"/>
<circle cx="671.30" cy="117.17" r="4.2" fill="url(#gs3)"/>
<circle cx="675.65" cy="124.21" r="4.2" fill="url(#gs3)"/>
<circle cx="672.00" cy="131.25" r="4.2" fill="url(#gs3)"/>
<circle cx="676.35" cy="138.29" r="4.2" fill="url(#gs3)"/>
<circle cx="672.70" cy="145.33" r="4.2" fill="url(#gs3)"/>
<circle cx="677.05" cy="152.37" r="4.2" fill="url(#gs3)"/>
<circle cx="673.40" cy="159.41" r="4.2" fill="url(#gs3)"/>
<circle cx="677.75" cy="166.45" r="4.2" fill="url(#gs3)"/>
<circle cx="674.10" cy="173.49" r="4.2" fill="url(#gs3)"/>
<circle cx="678.45" cy="180.53" r="4.2" fill="url(#gs3)"/>
<circle cx="679.30" cy="116.92" r="4.2" fill="url(#gs3)"/>
<circle cx="683.65" cy="123.96" r="4.2" fill="url(#gs3)"/>
<circle cx="680.00" cy="131.00" r="4.2" fill="url(#gs3)"/>
<circle cx="684.35" cy="138.04" r="4.2" fill="url(#gs3)"/>
<circle cx="680.70" cy="145.08" r="4.2" fill="url(#gs3)"/>
<circle cx="685.05" cy="152.12" r="4.2" fill="url(#gs3)"/>
<circle cx="681.40" cy="159.16" r="4.2" fill="url(#gs3)"/>
<circle cx="685.75" cy="166.20" r="4.2" fill="url(#gs3)"/>
<circle cx="682.10" cy="173.24" r="4.2" fill="url(#gs3)"/>
<circle cx="686.45" cy="180.28" r="4.2" fill="url(#gs3)"/>
<circle cx="687.30" cy="116.67" r="4.2" fill="url(#gs3)"/>
<circle cx="691.65" cy="123.71" r="4.2" fill="url(#gs3)"/>
<circle cx="688.00" cy="130.75" r="4.2" fill="url(#gs3)"/>
<circle cx="692.35" cy="137.79" r="4.2" fill="url(#gs3)"/>
<circle cx="688.70" cy="144.83" r="4.2" fill="url(#gs3)"/>
<circle cx="693.05" cy="151.87" r="4.2" fill="url(#gs3)"/>
<circle cx="689.40" cy="158.91" r="4.2" fill="url(#gs3)"/>
<circle cx="693.75" cy="165.95" r="4.2" fill="url(#gs3)"/>
<circle cx="690.10" cy="172.99" r="4.2" fill="url(#gs3)"/>
<circle cx="694.45" cy="180.03" r="4.2" fill="url(#gs3)"/>
<circle cx="695.30" cy="116.42" r="4.2" fill="url(#gs3)"/>
<circle cx="699.65" cy="123.46" r="4.2" fill="url(#gs3)"/>
<circle cx="696.00" cy="130.50" r="4.2" fill="url(#gs3)"/>
<circle cx="700.35" cy="137.54" r="4.2" fill="url(#gs3)"/>
<circle cx="696.70" cy="144.58" r="4.2" fill="url(#gs3)"/>
<circle cx="701.05" cy="151.62" r="4.2" fill="url(#gs3)"/>
<circle cx="697.40" cy="158.66" r="4.2" fill="url(#gs3)"/>
<circle cx="701.75" cy="165.70" r="4.2" fill="url(#gs3)"/>
<circle cx="698.10" cy="172.74" r="4.2" fill="url(#gs3)"/>
<circle cx="702.45" cy="179.78" r="4.2" fill="url(#gs3)"/>
<circle cx="703.30" cy="116.17" r="4.2" fill="url(#gs3)"/>
<circle cx="707.65" cy="123.21" r="4.2" fill="url(#gs3)"/>
<circle cx="704.00" cy="130.25" r="4.2" fill="url(#gs3)"/>
<circle cx="708.35" cy="137.29" r="4.2" fill="url(#gs3)"/>
<circle cx="704.70" cy="144.33" r="4.2" fill="url(#gs3)"/>
<circle cx="709.05" cy="151.37" r="4.2" fill="url(#gs3)"/>
<circle cx="705.40" cy="158.41" r="4.2" fill="url(#gs3)"/>
<circle cx="709.75" cy="165.45" r="4.2" fill="url(#gs3)"/>
<circle cx="706.10" cy="172.49" r="4.2" fill="url(#gs3)"/>
<circle cx="710.45" cy="179.53" r="4.2" fill="url(#gs3)"/>
<circle cx="650.00" cy="137.50" r="1.15" fill="url(#ys)"/>
<circle cx="659.38" cy="135.62" r="1.15" fill="url(#ys)"/>
<circle cx="665.62" cy="136.88" r="1.15" fill="url(#ys)"/>
<circle cx="673.12" cy="140.00" r="1.15" fill="url(#ys)"/>
<circle cx="681.00" cy="137.50" r="1.15" fill="url(#ys)"/>
<circle cx="688.12" cy="141.25" r="1.15" fill="url(#ys)"/>
<circle cx="656.88" cy="141.25" r="1.15" fill="url(#ys)"/>
<circle cx="650.00" cy="144.38" r="1.15" fill="url(#ys)"/>
<circle cx="665.00" cy="143.75" r="1.15" fill="url(#ys)"/>
<circle cx="680.62" cy="144.38" r="1.15" fill="url(#ys)"/>
<circle cx="688.75" cy="147.50" r="1.15" fill="url(#ys)"/>
<circle cx="657.50" cy="147.50" r="1.15" fill="url(#ys)"/>
<circle cx="673.12" cy="147.25" r="1.15" fill="url(#ys)"/>
<circle cx="651.25" cy="151.00" r="1.15" fill="url(#ys)"/>
<circle cx="666.25" cy="150.62" r="1.15" fill="url(#ys)"/>
<circle cx="682.25" cy="151.00" r="1.15" fill="url(#ys)"/>
<circle cx="660.00" cy="153.12" r="1.15" fill="url(#ys)"/>
<circle cx="653.50" cy="156.25" r="1.15" fill="url(#ys)"/>
<circle cx="669.00" cy="155.62" r="1.15" fill="url(#ys)"/>
<circle cx="685.00" cy="156.88" r="1.15" fill="url(#ys)"/>
<circle cx="660.62" cy="160.00" r="1.15" fill="url(#ys)"/>
<circle cx="676.88" cy="159.38" r="1.15" fill="url(#ys)"/>
<circle cx="652.50" cy="163.75" r="1.15" fill="url(#ys)"/>
<circle cx="668.12" cy="161.88" r="1.15" fill="url(#ys)"/>
<circle cx="683.75" cy="163.75" r="1.15" fill="url(#ys)"/>
<circle cx="673.75" cy="164.38" r="1.15" fill="url(#ys)"/>
<circle cx="659.38" cy="166.88" r="1.15" fill="url(#ys)"/>
<circle cx="650.00" cy="168.50" r="1.15" fill="url(#ys)"/>
<circle cx="665.62" cy="168.12" r="1.15" fill="url(#ys)"/>
<circle cx="680.62" cy="168.12" r="1.15" fill="url(#ys)"/>
<circle cx="657.50" cy="171.88" r="1.15" fill="url(#ys)"/>
<circle cx="673.12" cy="171.25" r="1.15" fill="url(#ys)"/>
<circle cx="688.12" cy="171.88" r="1.15" fill="url(#ys)"/>
<line x1="655" y1="139" x2="655" y2="170" stroke="#5a5a55" stroke-width="0.5"/>
</g>
<polygon points="677.36,154.75 671.90,157.90 666.44,154.75 666.44,148.45 671.90,145.30 677.36,148.45" fill="none" stroke="#d42a36" stroke-width="1" stroke-dasharray="1.2,0.9"/>
<line x1="523" y1="63.5" x2="523" y2="127.6" stroke="#ea3844" stroke-width="1.1" stroke-dasharray="1,0.85"/>
<path d="M521.1,127.0 L524.9,127.0 L523,130.8 Z" fill="#d8202c"/>
<line x1="602.5" y1="64" x2="602.5" y2="127.6" stroke="#ea3844" stroke-width="1.1" stroke-dasharray="1,0.85"/>
<path d="M600.6,127.0 L604.4,127.0 L602.5,130.8 Z" fill="#d8202c"/>
<line x1="682.0" y1="64" x2="682.0" y2="127.6" stroke="#ea3844" stroke-width="1.1" stroke-dasharray="1,0.85"/>
<path d="M680.1,127.0 L683.9,127.0 L682.0,130.8 Z" fill="#d8202c"/>
<line x1="517.8" y1="61.31999999999999" x2="528.2" y2="61.31999999999999" stroke="#8a8a8a" stroke-width="1"/>
<circle cx="523.0" cy="61.31999999999999" r="1.45" fill="#f02020"/>
<line x1="533.6999999999999" y1="61.31999999999999" x2="544.1" y2="61.31999999999999" stroke="#8a8a8a" stroke-width="1"/>
<circle cx="538.9" cy="61.31999999999999" r="1.45" fill="#f02020"/>
<line x1="549.5999999999999" y1="61.31999999999999" x2="560.0" y2="61.31999999999999" stroke="#8a8a8a" stroke-width="1"/>
<circle cx="554.8" cy="61.31999999999999" r="1.45" fill="#f02020"/>
<line x1="565.5" y1="61.31999999999999" x2="575.9000000000001" y2="61.31999999999999" stroke="#8a8a8a" stroke-width="1"/>
<circle cx="570.7" cy="61.31999999999999" r="1.45" fill="#f02020"/>
<polygon points="585.40,33.00 585.41,33.48 585.45,34.16 585.48,34.95 585.49,35.79 585.45,36.60 585.35,37.30 585.17,37.89 584.93,38.44 584.64,38.95 584.33,39.45 584.01,39.96 583.70,40.50 583.38,41.06 583.04,41.63 582.69,42.21 582.35,42.80 582.05,43.40 581.80,44.00 581.60,44.61 581.43,45.23 581.29,45.86 581.19,46.49 581.13,47.14 581.10,47.80 581.12,48.48 581.19,49.18 581.30,49.89 581.43,50.60 581.57,51.31 581.70,52.00 581.83,52.66 581.97,53.30 582.12,53.93 582.27,54.58 582.43,55.26 582.60,56.00 582.77,56.81 582.96,57.67 583.14,58.57 583.33,59.49 583.52,60.40 583.70,61.30 583.87,62.18 584.04,63.06 584.20,63.94 584.36,64.83 584.53,65.71 584.70,66.60 584.88,67.51 585.07,68.44 585.27,69.38 585.46,70.30 585.64,71.18 585.80,72.00 585.95,72.79 586.10,73.59 586.24,74.34 586.37,75.01 586.47,75.58 586.55,76.00 586.65,76.00 586.73,75.58 586.83,75.01 586.96,74.34 587.10,73.59 587.25,72.79 587.40,72.00 587.56,71.18 587.74,70.30 587.93,69.38 588.13,68.44 588.32,67.51 588.50,66.60 588.67,65.71 588.84,64.83 589.00,63.94 589.16,63.06 589.33,62.18 589.50,61.30 589.68,60.40 589.87,59.49 590.06,58.57 590.24,57.67 590.43,56.81 590.60,56.00 590.77,55.26 590.93,54.58 591.08,53.93 591.23,53.30 591.37,52.66 591.50,52.00 591.63,51.31 591.77,50.60 591.90,49.89 592.01,49.18 592.08,48.48 592.10,47.80 592.07,47.14 592.01,46.49 591.91,45.86 591.77,45.23 591.60,44.61 591.40,44.00 591.15,43.40 590.85,42.80 590.51,42.21 590.16,41.63 589.82,41.06 589.50,40.50 589.19,39.96 588.87,39.45 588.56,38.95 588.27,38.44 588.03,37.89 587.85,37.30 587.75,36.60 587.71,35.79 587.72,34.95 587.75,34.16 587.79,33.48 587.80,33.00" fill="#a9d5e8" stroke="#222" stroke-width="1" stroke-linejoin="round"/>
<path d="M586.6,40.4 V61 M584.4,40.4 H588.8000000000001 M584.4,61 H588.8000000000001" stroke="#f02020" stroke-width="0.95" fill="none"/>
<circle cx="586.6" cy="50.5" r="1.45" fill="#f02020"/>
<polygon points="597.20,47.20 599.90,50.50 601.60,54.20 599.90,58.00 597.20,61.30 607.80,61.30 605.10,58.00 603.40,54.20 605.10,50.50 607.80,47.20" fill="#a9d5e8" stroke="#222" stroke-width="1" stroke-linejoin="round"/>
<path d="M602.5,47.6 V60.9 M598.3,47.6 H606.7 M598.3,60.9 H606.7" stroke="#f02020" stroke-width="0.95" fill="none"/>
<circle cx="602.5" cy="54.2" r="1.45" fill="#f02020"/>
<polygon points="613.10,47.20 615.80,50.50 617.50,54.20 615.80,58.00 613.10,61.30 623.70,61.30 621.00,58.00 619.30,54.20 621.00,50.50 623.70,47.20" fill="#a9d5e8" stroke="#222" stroke-width="1" stroke-linejoin="round"/>
<path d="M618.4,47.6 V60.9 M614.1999999999999,47.6 H622.6 M614.1999999999999,60.9 H622.6" stroke="#f02020" stroke-width="0.95" fill="none"/>
<circle cx="618.4" cy="54.2" r="1.45" fill="#f02020"/>
<line x1="634.3" y1="33" x2="634.3" y2="41" stroke="#222" stroke-width="1"/>
<polygon points="634.20,39.80 634.05,39.98 633.86,40.23 633.62,40.52 633.36,40.85 633.08,41.18 632.80,41.50 632.50,41.80 632.16,42.11 631.81,42.42 631.45,42.75 631.11,43.11 630.80,43.50 630.50,43.94 630.19,44.41 629.89,44.91 629.63,45.43 629.43,45.96 629.30,46.50 629.26,47.05 629.28,47.61 629.36,48.19 629.49,48.78 629.64,49.38 629.80,50.00 630.00,50.65 630.26,51.33 630.54,52.03 630.82,52.72 631.08,53.39 631.30,54.00 631.47,54.57 631.61,55.13 631.74,55.65 631.84,56.14 631.93,56.59 632.00,57.00 632.06,57.33 632.10,57.59 632.12,57.81 632.13,58.02 632.12,58.27 632.10,58.60 632.05,59.04 631.96,59.58 631.86,60.15 631.75,60.70 631.66,61.17 631.60,61.50 637.00,61.50 636.94,61.17 636.85,60.70 636.74,60.15 636.64,59.58 636.55,59.04 636.50,58.60 636.47,58.27 636.47,58.02 636.47,57.81 636.50,57.59 636.54,57.33 636.60,57.00 636.67,56.59 636.76,56.14 636.86,55.65 636.99,55.13 637.13,54.57 637.30,54.00 637.52,53.39 637.78,52.72 638.06,52.03 638.34,51.33 638.60,50.65 638.80,50.00 638.96,49.38 639.11,48.78 639.24,48.19 639.32,47.61 639.34,47.05 639.30,46.50 639.17,45.96 638.97,45.43 638.71,44.91 638.41,44.41 638.10,43.94 637.80,43.50 637.49,43.11 637.15,42.75 636.79,42.42 636.44,42.11 636.10,41.80 635.80,41.50 635.52,41.18 635.24,40.85 634.97,40.52 634.74,40.23 634.55,39.98 634.40,39.80" fill="#a9d5e8" stroke="#222" stroke-width="1" stroke-linejoin="round"/>
<path d="M634.3,43.1 V59.2 M632.0999999999999,43.1 H636.5 M632.0999999999999,59.2 H636.5" stroke="#f02020" stroke-width="0.95" fill="none"/>
<circle cx="634.3" cy="51.2" r="1.45" fill="#f02020"/>
<line x1="650.2" y1="33" x2="650.2" y2="61.5" stroke="#222" stroke-width="1"/>
<polygon points="650.10,41.80 649.80,42.07 649.37,42.43 648.88,42.87 648.34,43.34 647.80,43.83 647.30,44.30 646.77,44.76 646.15,45.24 645.54,45.73 645.00,46.23 644.63,46.72 644.50,47.20 644.67,47.68 645.09,48.15 645.66,48.63 646.31,49.09 646.96,49.55 647.50,50.00 647.99,50.46 648.49,50.95 648.99,51.42 649.44,51.86 649.82,52.23 650.10,52.50 650.30,52.50 650.58,52.23 650.96,51.86 651.41,51.42 651.91,50.95 652.41,50.46 652.90,50.00 653.44,49.55 654.09,49.09 654.74,48.63 655.31,48.15 655.73,47.68 655.90,47.20 655.77,46.72 655.40,46.23 654.86,45.73 654.25,45.24 653.63,44.76 653.10,44.30 652.60,43.83 652.06,43.34 651.53,42.87 651.03,42.43 650.60,42.07 650.30,41.80" fill="#a9d5e8" stroke="#222" stroke-width="1" stroke-linejoin="round"/>
<path d="M650.2,42.9 V51.9 M648.0,42.9 H652.4000000000001 M648.0,51.9 H652.4000000000001" stroke="#f02020" stroke-width="0.95" fill="none"/>
<circle cx="650.2" cy="47.6" r="1.45" fill="#f02020"/>
<polygon points="664.90,33.00 664.92,33.69 664.97,34.67 665.01,35.81 665.03,37.00 665.00,38.10 664.90,39.00 664.70,39.68 664.43,40.24 664.10,40.72 663.75,41.15 663.41,41.56 663.10,42.00 662.81,42.44 662.52,42.86 662.23,43.27 661.96,43.67 661.71,44.08 661.50,44.50 661.32,44.93 661.16,45.36 661.02,45.80 660.92,46.25 660.86,46.71 660.85,47.20 660.89,47.71 660.99,48.25 661.12,48.80 661.29,49.36 661.49,49.93 661.70,50.50 661.96,51.08 662.26,51.69 662.60,52.29 662.94,52.89 663.24,53.47 663.50,54.00 663.71,54.46 663.89,54.85 664.05,55.21 664.18,55.60 664.28,56.04 664.35,56.60 664.38,57.34 664.37,58.24 664.33,59.21 664.28,60.14 664.23,60.94 664.20,61.50 668.00,61.50 667.97,60.94 667.92,60.14 667.87,59.21 667.83,58.24 667.82,57.34 667.85,56.60 667.92,56.04 668.02,55.60 668.15,55.21 668.31,54.85 668.49,54.46 668.70,54.00 668.96,53.47 669.26,52.89 669.60,52.29 669.94,51.69 670.24,51.08 670.50,50.50 670.71,49.93 670.91,49.36 671.08,48.80 671.21,48.25 671.31,47.71 671.35,47.20 671.34,46.71 671.28,46.25 671.18,45.80 671.04,45.36 670.88,44.93 670.70,44.50 670.49,44.08 670.24,43.67 669.97,43.27 669.68,42.86 669.39,42.44 669.10,42.00 668.79,41.56 668.45,41.15 668.10,40.72 667.77,40.24 667.50,39.68 667.30,39.00 667.20,38.10 667.17,37.00 667.19,35.81 667.23,34.67 667.28,33.69 667.30,33.00" fill="#a9d5e8" stroke="#222" stroke-width="1" stroke-linejoin="round"/>
<path d="M666.1,41.4 V57.2 M663.9,41.4 H668.3000000000001 M663.9,57.2 H668.3000000000001" stroke="#f02020" stroke-width="0.95" fill="none"/>
<circle cx="666.1" cy="49.2" r="1.45" fill="#f02020"/>
<polygon points="680.80,33.00 680.82,33.69 680.87,34.67 680.92,35.81 680.95,37.00 680.92,38.10 680.80,39.00 680.58,39.68 680.27,40.24 679.90,40.72 679.51,41.15 679.13,41.56 678.80,42.00 678.50,42.44 678.20,42.86 677.92,43.27 677.65,43.67 677.41,44.08 677.20,44.50 677.01,44.93 676.84,45.36 676.69,45.80 676.58,46.25 676.51,46.71 676.50,47.20 676.55,47.71 676.64,48.25 676.79,48.80 676.97,49.36 677.17,49.93 677.40,50.50 677.67,51.08 677.99,51.69 678.35,52.29 678.70,52.89 679.03,53.47 679.30,54.00 679.53,54.46 679.73,54.85 679.90,55.21 680.05,55.60 680.17,56.04 680.25,56.60 680.29,57.34 680.28,58.24 680.23,59.21 680.18,60.14 680.13,60.94 680.10,61.50 683.90,61.50 683.87,60.94 683.82,60.14 683.77,59.21 683.72,58.24 683.71,57.34 683.75,56.60 683.83,56.04 683.95,55.60 684.10,55.21 684.27,54.85 684.47,54.46 684.70,54.00 684.97,53.47 685.30,52.89 685.65,52.29 686.01,51.69 686.33,51.08 686.60,50.50 686.83,49.93 687.03,49.36 687.21,48.80 687.36,48.25 687.45,47.71 687.50,47.20 687.49,46.71 687.42,46.25 687.31,45.80 687.16,45.36 686.99,44.93 686.80,44.50 686.59,44.08 686.35,43.67 686.08,43.27 685.80,42.86 685.50,42.44 685.20,42.00 684.87,41.56 684.49,41.15 684.10,40.72 683.73,40.24 683.42,39.68 683.20,39.00 683.08,38.10 683.05,37.00 683.08,35.81 683.13,34.67 683.18,33.69 683.20,33.00" fill="#a9d5e8" stroke="#222" stroke-width="1" stroke-linejoin="round"/>
<path d="M682.0,41.1 V56.6 M679.8,41.1 H684.2 M679.8,56.6 H684.2" stroke="#f02020" stroke-width="0.95" fill="none"/>
<circle cx="682.0" cy="48.9" r="1.45" fill="#f02020"/>
<rect x="509.5" y="18.75" width="185.0" height="156.15" fill="none" stroke="#3c3c3c" stroke-width="1"/>
<line x1="523.0" y1="174.9" x2="523.0" y2="180.1" stroke="#3c3c3c" stroke-width="1"/>
<text x="523.0" y="191.3" text-anchor="middle" font-size="9.15">0.0</text>
<line x1="538.9" y1="174.9" x2="538.9" y2="180.1" stroke="#3c3c3c" stroke-width="1"/>
<text x="538.9" y="191.3" text-anchor="middle" font-size="9.15">0.1</text>
<line x1="554.8" y1="174.9" x2="554.8" y2="180.1" stroke="#3c3c3c" stroke-width="1"/>
<text x="554.8" y="191.3" text-anchor="middle" font-size="9.15">0.2</text>
<line x1="570.7" y1="174.9" x2="570.7" y2="180.1" stroke="#3c3c3c" stroke-width="1"/>
<text x="570.7" y="191.3" text-anchor="middle" font-size="9.15">0.3</text>
<line x1="586.6" y1="174.9" x2="586.6" y2="180.1" stroke="#3c3c3c" stroke-width="1"/>
<text x="586.6" y="191.3" text-anchor="middle" font-size="9.15">0.4</text>
<line x1="602.5" y1="174.9" x2="602.5" y2="180.1" stroke="#3c3c3c" stroke-width="1"/>
<text x="602.5" y="191.3" text-anchor="middle" font-size="9.15">0.5</text>
<line x1="618.4" y1="174.9" x2="618.4" y2="180.1" stroke="#3c3c3c" stroke-width="1"/>
<text x="618.4" y="191.3" text-anchor="middle" font-size="9.15">0.6</text>
<line x1="634.3" y1="174.9" x2="634.3" y2="180.1" stroke="#3c3c3c" stroke-width="1"/>
<text x="634.3" y="191.3" text-anchor="middle" font-size="9.15">0.7</text>
<line x1="650.2" y1="174.9" x2="650.2" y2="180.1" stroke="#3c3c3c" stroke-width="1"/>
<text x="650.2" y="191.3" text-anchor="middle" font-size="9.15">0.8</text>
<line x1="666.1" y1="174.9" x2="666.1" y2="180.1" stroke="#3c3c3c" stroke-width="1"/>
<text x="666.1" y="191.3" text-anchor="middle" font-size="9.15">0.9</text>
<line x1="682.0" y1="174.9" x2="682.0" y2="180.1" stroke="#3c3c3c" stroke-width="1"/>
<text x="682.0" y="191.3" text-anchor="middle" font-size="9.15">1.0</text>
<line x1="504.7" y1="33.0" x2="509.5" y2="33.0" stroke="#3c3c3c" stroke-width="1"/>
<text x="499.7" y="36.2" text-anchor="end" font-size="9.15">10</text>
<line x1="504.7" y1="61.31999999999999" x2="509.5" y2="61.31999999999999" stroke="#3c3c3c" stroke-width="1"/>
<text x="499.7" y="64.52" text-anchor="end" font-size="9.15">8</text>
<line x1="504.7" y1="89.63999999999999" x2="509.5" y2="89.63999999999999" stroke="#3c3c3c" stroke-width="1"/>
<text x="499.7" y="92.83999999999999" text-anchor="end" font-size="9.15">6</text>
<line x1="504.7" y1="117.96" x2="509.5" y2="117.96" stroke="#3c3c3c" stroke-width="1"/>
<text x="499.7" y="121.16" text-anchor="end" font-size="9.15">4</text>
<line x1="504.7" y1="146.28" x2="509.5" y2="146.28" stroke="#3c3c3c" stroke-width="1"/>
<text x="499.7" y="149.48" text-anchor="end" font-size="9.15">2</text>
<line x1="504.7" y1="174.6" x2="509.5" y2="174.6" stroke="#3c3c3c" stroke-width="1"/>
<text x="499.7" y="177.79999999999998" text-anchor="end" font-size="9.15">0</text>
<text x="607.5" y="206.8" text-anchor="middle" font-size="9.3">Total concentration of hydrogen</text>
<text transform="translate(484,98.8) rotate(-90)" text-anchor="middle" font-size="9.3">Pd-Pd coordination of the surface layer</text>
<text transform="translate(3.2,231.6) scale(0.72,1)" font-size="14.5" font-weight="bold" style="fill:#000;stroke:#000;stroke-width:0.4px;stroke-linejoin:round">d</text>
<line x1="113.5" y1="238.6" x2="113.5" y2="398.9" stroke="#ad6ce6" stroke-width="1.3" stroke-dasharray="4.2,2.3"/>
<polyline points="37.7,246 87.5,246 89.2,259.8 95,259.8 96.6,273.5 98.1,273.5 100,302.9 120.8,302.9 122.5,318.7 133.2,318.7 134.6,378 140.8,378 142.5,391.7 219.3,391.7" fill="none" stroke="#1c1c1c" stroke-width="1.5" stroke-linejoin="round"/>
<rect x="37.7" y="238.6" width="181.60000000000002" height="160.29999999999998" fill="none" stroke="#3c3c3c" stroke-width="1"/>
<line x1="38.040000000000006" y1="398.9" x2="38.040000000000006" y2="404.09999999999997" stroke="#3c3c3c" stroke-width="1"/>
<text x="36.84" y="415.2" text-anchor="middle" font-size="9.15">−0.6</text>
<line x1="68.16" y1="398.9" x2="68.16" y2="404.09999999999997" stroke="#3c3c3c" stroke-width="1"/>
<text x="66.96" y="415.2" text-anchor="middle" font-size="9.15">−0.4</text>
<line x1="98.28" y1="398.9" x2="98.28" y2="404.09999999999997" stroke="#3c3c3c" stroke-width="1"/>
<text x="97.08" y="415.2" text-anchor="middle" font-size="9.15">−0.2</text>
<line x1="128.4" y1="398.9" x2="128.4" y2="404.09999999999997" stroke="#3c3c3c" stroke-width="1"/>
<text x="128.4" y="415.2" text-anchor="middle" font-size="9.15">0.0</text>
<line x1="158.52" y1="398.9" x2="158.52" y2="404.09999999999997" stroke="#3c3c3c" stroke-width="1"/>
<text x="158.52" y="415.2" text-anchor="middle" font-size="9.15">0.2</text>
<line x1="188.64000000000001" y1="398.9" x2="188.64000000000001" y2="404.09999999999997" stroke="#3c3c3c" stroke-width="1"/>
<text x="188.64000000000001" y="415.2" text-anchor="middle" font-size="9.15">0.4</text>
<line x1="218.76" y1="398.9" x2="218.76" y2="404.09999999999997" stroke="#3c3c3c" stroke-width="1"/>
<text x="218.76" y="415.2" text-anchor="middle" font-size="9.15">0.6</text>
<line x1="32.900000000000006" y1="246.0" x2="37.7" y2="246.0" stroke="#3c3c3c" stroke-width="1"/>
<text x="26.900000000000006" y="249.2" text-anchor="end" font-size="9.15">1.0</text>
<line x1="32.900000000000006" y1="275.14" x2="37.7" y2="275.14" stroke="#3c3c3c" stroke-width="1"/>
<text x="26.900000000000006" y="278.34" text-anchor="end" font-size="9.15">0.8</text>
<line x1="32.900000000000006" y1="304.28" x2="37.7" y2="304.28" stroke="#3c3c3c" stroke-width="1"/>
<text x="26.900000000000006" y="307.47999999999996" text-anchor="end" font-size="9.15">0.6</text>
<line x1="32.900000000000006" y1="333.41999999999996" x2="37.7" y2="333.41999999999996" stroke="#3c3c3c" stroke-width="1"/>
<text x="26.900000000000006" y="336.61999999999995" text-anchor="end" font-size="9.15">0.4</text>
<line x1="32.900000000000006" y1="362.56" x2="37.7" y2="362.56" stroke="#3c3c3c" stroke-width="1"/>
<text x="26.900000000000006" y="365.76" text-anchor="end" font-size="9.15">0.2</text>
<line x1="32.900000000000006" y1="391.7" x2="37.7" y2="391.7" stroke="#3c3c3c" stroke-width="1"/>
<text x="26.900000000000006" y="394.9" text-anchor="end" font-size="9.15">0.0</text>
<text x="132.6" y="429.2" text-anchor="middle" font-size="9.3">Potential (V versus RHE)</text>
<text transform="translate(6.2,324) rotate(-90)" text-anchor="middle" font-size="9.3">Total concentration of hydrogen</text>
<text transform="translate(244.6,228) scale(0.72,1)" font-size="14.5" font-weight="bold" style="fill:#000;stroke:#000;stroke-width:0.4px;stroke-linejoin:round">e</text>
<path d="M286.75,294.75 L289.75,297.75 L286.75,300.75 L283.75,297.75 Z" fill="#111"/>
<path d="M303.25,296.75 L306.25,299.75 L303.25,302.75 L300.25,299.75 Z" fill="#111"/>
<path d="M319.75,306.25 L322.75,309.25 L319.75,312.25 L316.75,309.25 Z" fill="#111"/>
<path d="M336.25,288.75 L339.25,291.75 L336.25,294.75 L333.25,291.75 Z" fill="#111"/>
<path d="M352.75,279.75 L355.75,282.75 L352.75,285.75 L349.75,282.75 Z" fill="#111"/>
<path d="M369.25,278.75 L372.25,281.75 L369.25,284.75 L366.25,281.75 Z" fill="#111"/>
<path d="M385.75,269.50 L388.75,272.50 L385.75,275.50 L382.75,272.50 Z" fill="#111"/>
<path d="M402.25,243.50 L405.25,246.50 L402.25,249.50 L399.25,246.50 Z" fill="#111"/>
<path d="M418.75,270.50 L421.75,273.50 L418.75,276.50 L415.75,273.50 Z" fill="#111"/>
<path d="M435.25,265.00 L438.25,268.00 L435.25,271.00 L432.25,268.00 Z" fill="#111"/>
<path d="M451.75,260.50 L454.75,263.50 L451.75,266.50 L448.75,263.50 Z" fill="#111"/>
<path d="M286.75,389.25 L289.75,392.25 L286.75,395.25 L283.75,392.25 Z" fill="#ee2222"/>
<path d="M303.25,380.50 L306.25,383.50 L303.25,386.50 L300.25,383.50 Z" fill="#ee2222"/>
<path d="M319.75,384.00 L322.75,387.00 L319.75,390.00 L316.75,387.00 Z" fill="#ee2222"/>
<path d="M336.25,387.50 L339.25,390.50 L336.25,393.50 L333.25,390.50 Z" fill="#ee2222"/>
<path d="M352.75,365.50 L355.75,368.50 L352.75,371.50 L349.75,368.50 Z" fill="#ee2222"/>
<path d="M369.25,359.00 L372.25,362.00 L369.25,365.00 L366.25,362.00 Z" fill="#ee2222"/>
<path d="M385.75,349.00 L388.75,352.00 L385.75,355.00 L382.75,352.00 Z" fill="#ee2222"/>
<path d="M402.25,352.25 L405.25,355.25 L402.25,358.25 L399.25,355.25 Z" fill="#ee2222"/>
<path d="M418.75,333.00 L421.75,336.00 L418.75,339.00 L415.75,336.00 Z" fill="#ee2222"/>
<path d="M435.25,336.75 L438.25,339.75 L435.25,342.75 L432.25,339.75 Z" fill="#ee2222"/>
<path d="M451.75,335.25 L454.75,338.25 L451.75,341.25 L448.75,338.25 Z" fill="#ee2222"/>
<path d="M294.50,247.25 L297.50,250.25 L294.50,253.25 L291.50,250.25 Z" fill="#111"/>
<path d="M294.50,259.75 L297.50,262.75 L294.50,265.75 L291.50,262.75 Z" fill="#ee2222"/>
<text x="310" y="253.0" font-size="9.35">COOH</text>
<text x="310" y="265.5" font-size="9.35">CO</text>
<rect x="278.8" y="239.5" width="182.0" height="159.5" fill="none" stroke="#3c3c3c" stroke-width="1"/>
<line x1="286.75" y1="399" x2="286.75" y2="404.2" stroke="#3c3c3c" stroke-width="1"/>
<text x="286.75" y="416.2" text-anchor="middle" font-size="9.15">0.0</text>
<line x1="303.25" y1="399" x2="303.25" y2="404.2" stroke="#3c3c3c" stroke-width="1"/>
<text x="303.25" y="416.2" text-anchor="middle" font-size="9.15">0.1</text>
<line x1="319.75" y1="399" x2="319.75" y2="404.2" stroke="#3c3c3c" stroke-width="1"/>
<text x="319.75" y="416.2" text-anchor="middle" font-size="9.15">0.2</text>
<line x1="336.25" y1="399" x2="336.25" y2="404.2" stroke="#3c3c3c" stroke-width="1"/>
<text x="336.25" y="416.2" text-anchor="middle" font-size="9.15">0.3</text>
<line x1="352.75" y1="399" x2="352.75" y2="404.2" stroke="#3c3c3c" stroke-width="1"/>
<text x="352.75" y="416.2" text-anchor="middle" font-size="9.15">0.4</text>
<line x1="369.25" y1="399" x2="369.25" y2="404.2" stroke="#3c3c3c" stroke-width="1"/>
<text x="369.25" y="416.2" text-anchor="middle" font-size="9.15">0.5</text>
<line x1="385.75" y1="399" x2="385.75" y2="404.2" stroke="#3c3c3c" stroke-width="1"/>
<text x="385.75" y="416.2" text-anchor="middle" font-size="9.15">0.6</text>
<line x1="402.25" y1="399" x2="402.25" y2="404.2" stroke="#3c3c3c" stroke-width="1"/>
<text x="402.25" y="416.2" text-anchor="middle" font-size="9.15">0.7</text>
<line x1="418.75" y1="399" x2="418.75" y2="404.2" stroke="#3c3c3c" stroke-width="1"/>
<text x="418.75" y="416.2" text-anchor="middle" font-size="9.15">0.8</text>
<line x1="435.25" y1="399" x2="435.25" y2="404.2" stroke="#3c3c3c" stroke-width="1"/>
<text x="435.25" y="416.2" text-anchor="middle" font-size="9.15">0.9</text>
<line x1="451.75" y1="399" x2="451.75" y2="404.2" stroke="#3c3c3c" stroke-width="1"/>
<text x="451.75" y="416.2" text-anchor="middle" font-size="9.15">1.0</text>
<line x1="274.0" y1="264.75" x2="278.8" y2="264.75" stroke="#3c3c3c" stroke-width="1"/>
<text x="268.0" y="267.95" text-anchor="end" font-size="9.15">0.0</text>
<line x1="274.0" y1="293.3" x2="278.8" y2="293.3" stroke="#3c3c3c" stroke-width="1"/>
<text x="268.0" y="296.5" text-anchor="end" font-size="9.15">−0.5</text>
<line x1="274.0" y1="321.85" x2="278.8" y2="321.85" stroke="#3c3c3c" stroke-width="1"/>
<text x="268.0" y="325.05" text-anchor="end" font-size="9.15">−1.0</text>
<line x1="274.0" y1="350.4" x2="278.8" y2="350.4" stroke="#3c3c3c" stroke-width="1"/>
<text x="268.0" y="353.59999999999997" text-anchor="end" font-size="9.15">−1.5</text>
<line x1="274.0" y1="378.95" x2="278.8" y2="378.95" stroke="#3c3c3c" stroke-width="1"/>
<text x="268.0" y="382.15" text-anchor="end" font-size="9.15">−2.0</text>
<text x="375" y="429.8" text-anchor="middle" font-size="9.1">Total concentration of hydrogen</text>
<text transform="translate(240.8,321) rotate(-90)" text-anchor="middle" font-size="9.3">Adsorption energy (eV)</text>
<text transform="translate(491.2,233.6) scale(0.72,1)" font-size="14.5" font-weight="bold" style="fill:#000;stroke:#000;stroke-width:0.4px;stroke-linejoin:round">f</text>
<line x1="540.8" y1="319.20" x2="579.2" y2="297.22" stroke="#404040" stroke-width="1.25" stroke-dasharray="5,2"/>
<line x1="593.0" y1="297.22" x2="630.7" y2="383.14" stroke="#404040" stroke-width="1.25" stroke-dasharray="5,2"/>
<line x1="644.5" y1="383.14" x2="683.1" y2="270.58" stroke="#404040" stroke-width="1.25" stroke-dasharray="5,2"/>
<line x1="540.8" y1="319.20" x2="579.2" y2="272.58" stroke="#b27af0" stroke-width="1.25" stroke-dasharray="5,2"/>
<line x1="593.0" y1="272.58" x2="630.7" y2="339.51" stroke="#b27af0" stroke-width="1.25" stroke-dasharray="5,2"/>
<line x1="644.5" y1="339.51" x2="683.1" y2="270.58" stroke="#b27af0" stroke-width="1.25" stroke-dasharray="5,2"/>
<line x1="579.2" y1="272.58" x2="593.0" y2="272.58" stroke="#b27af0" stroke-width="1.25"/>
<line x1="630.7" y1="339.51" x2="644.5" y2="339.51" stroke="#b27af0" stroke-width="1.25"/>
<line x1="527.0" y1="319.20" x2="540.8" y2="319.20" stroke="#404040" stroke-width="1.25"/>
<line x1="579.2" y1="297.22" x2="593.0" y2="297.22" stroke="#404040" stroke-width="1.25"/>
<line x1="630.7" y1="383.14" x2="644.5" y2="383.14" stroke="#404040" stroke-width="1.25"/>
<line x1="683.1" y1="270.58" x2="696.9" y2="270.58" stroke="#404040" stroke-width="1.25"/>
<line x1="528.8" y1="250.3" x2="546.3" y2="250.3" stroke="#404040" stroke-width="1.25"/>
<line x1="528.8" y1="262.8" x2="546.3" y2="262.8" stroke="#b27af0" stroke-width="1.25"/>
<text x="553" y="253.0" font-size="9.2">Pure Pd</text>
<text x="553" y="265.5" font-size="9.2">PdH<tspan font-size="5" dy="0.4" font-weight="bold">0.6</tspan></text>
<clipPath id="f1"><rect x="541.3" y="333.7" width="49.40000000000009" height="44.900000000000034"/></clipPath>
<rect x="541.3" y="333.7" width="49.40000000000009" height="44.900000000000034" fill="#fff" stroke="#c4c4c4" stroke-width="0.8"/>
<g clip-path="url(#f1)">
<ellipse cx="557.9" cy="378.4" rx="4.6" ry="3.1" transform="rotate(-12 557.9 378.4)" fill="url(#gs2)"/>
<ellipse cx="572.9" cy="378.4" rx="4.6" ry="3.1" transform="rotate(-12 572.9 378.4)" fill="url(#gs2)"/>
<ellipse cx="588.5" cy="378.4" rx="4.6" ry="3.1" transform="rotate(-12 588.5 378.4)" fill="url(#gs2)"/>
<ellipse cx="543.5" cy="378.4" rx="4.6" ry="3.1" transform="rotate(-12 543.5 378.4)" fill="url(#gs2)"/>
<ellipse cx="549.5" cy="368.6" rx="4.6" ry="3.1" transform="rotate(-12 549.5 368.6)" fill="url(#gs2)"/>
<ellipse cx="564.5" cy="368.6" rx="4.6" ry="3.1" transform="rotate(-12 564.5 368.6)" fill="url(#gs2)"/>
<ellipse cx="579.75" cy="368.6" rx="4.6" ry="3.1" transform="rotate(-12 579.75 368.6)" fill="url(#gs2)"/>
<ellipse cx="543.25" cy="357.75" rx="3.0" ry="3.0" transform="rotate(0 543.25 357.75)" fill="url(#gs2)"/>
<ellipse cx="556" cy="357.75" rx="4.6" ry="3.1" transform="rotate(-12 556 357.75)" fill="url(#gs2)"/>
<ellipse cx="572" cy="357.75" rx="4.6" ry="3.1" transform="rotate(-12 572 357.75)" fill="url(#gs2)"/>
<ellipse cx="586" cy="357.75" rx="3.0" ry="3.0" transform="rotate(0 586 357.75)" fill="url(#gs2)"/>
<path d="M565.75,348.6 L560.2,353.8 M565.75,348.6 L571.2,353.8" stroke="#222" stroke-width="0.9" fill="none"/>
<line x1="565.75" y1="342.4" x2="565.75" y2="348.6" stroke="#555" stroke-width="0.8"/>
<circle cx="565.75" cy="348.6" r="1.5" fill="#1a1a1a"/>
<circle cx="565.75" cy="342.4" r="1.5" fill="#e8222a"/>
</g>
<clipPath id="f2"><rect x="613.1" y="248.6" width="49.299999999999955" height="45.900000000000006"/></clipPath>
<rect x="613.1" y="248.6" width="49.299999999999955" height="45.900000000000006" fill="#fff" stroke="#c4c4c4" stroke-width="0.8"/>
<g clip-path="url(#f2)">
<circle cx="620.00" cy="286.17" r="3.33" fill="url(#gs2)"/>
<circle cx="620.00" cy="291.17" r="3.58" fill="url(#gs2)"/>
<circle cx="638.75" cy="286.17" r="3.33" fill="url(#gs2)"/>
<circle cx="638.75" cy="291.17" r="3.58" fill="url(#gs2)"/>
<circle cx="658.75" cy="286.17" r="3.33" fill="url(#gs2)"/>
<circle cx="658.75" cy="291.17" r="3.58" fill="url(#gs2)"/>
<circle cx="629.33" cy="289.08" r="3.58" fill="url(#gs2)"/>
<circle cx="648.75" cy="291.33" r="3.00" fill="url(#gs2)"/>
<ellipse cx="648.75" cy="288.00" rx="4.17" ry="1.83" fill="#ece020"/>
<polyline points="645.00,288.25 648.75,285.75 652.50,288.25" fill="none" stroke="#ece020" stroke-width="1.1" stroke-linejoin="round" stroke-linecap="round"/>
<polyline points="645.00,287.92 648.75,290.42 652.50,287.92" fill="none" stroke="#ece020" stroke-width="1.1" stroke-linejoin="round" stroke-linecap="round"/>
<polyline points="625.58,292.08 629.33,293.92 633.08,292.08" fill="none" stroke="#ece020" stroke-width="1.2" stroke-linejoin="round" stroke-linecap="round"/>
<ellipse cx="615.17" cy="293.33" rx="0.83" ry="0.83" fill="#ece020"/>
<ellipse cx="646.67" cy="293.33" rx="1.17" ry="0.67" fill="#ece020"/>
<ellipse cx="651.00" cy="293.33" rx="1.17" ry="0.67" fill="#ece020"/>
<line x1="619.17" y1="277.83" x2="619.17" y2="283.00" stroke="#ece020" stroke-width="1.3" stroke-linecap="round"/>
<line x1="638.75" y1="278.67" x2="638.75" y2="283.83" stroke="#ece020" stroke-width="1.3" stroke-linecap="round"/>
<line x1="658.75" y1="278.67" x2="658.75" y2="283.00" stroke="#ece020" stroke-width="1.3" stroke-linecap="round"/>
<line x1="632.33" y1="284.33" x2="630.83" y2="286.33" stroke="#b8b8b0" stroke-width="1.0" stroke-linecap="round"/>
<line x1="635.00" y1="279.67" x2="632.50" y2="284.17" stroke="#ece020" stroke-width="1.2" stroke-linecap="round"/>
<circle cx="629.17" cy="270.75" r="2.92" fill="url(#gs2)"/>
<circle cx="648.75" cy="271.17" r="2.92" fill="url(#gs2)"/>
<circle cx="613.75" cy="275.33" r="3.17" fill="url(#gs2)"/>
<polyline points="624.79,272.25 628.75,270.42 632.71,272.25" fill="none" stroke="#ece020" stroke-width="1.2" stroke-linejoin="round" stroke-linecap="round"/>
<polyline points="637.50,270.92 639.17,269.75 640.83,270.92" fill="none" stroke="#ece020" stroke-width="1.0" stroke-linejoin="round" stroke-linecap="round"/>
<circle cx="620.00" cy="274.50" r="3.33" fill="url(#gs2)"/>
<circle cx="638.75" cy="274.50" r="3.75" fill="url(#gs2)"/>
<circle cx="658.75" cy="274.50" r="3.33" fill="url(#gs2)"/>
<ellipse cx="648.75" cy="269.08" rx="3.83" ry="1.67" fill="#ece020"/>
<polyline points="645.00,269.67 648.75,267.33 652.50,269.67" fill="none" stroke="#ece020" stroke-width="1.1" stroke-linejoin="round" stroke-linecap="round"/>
<polyline points="617.50,271.33 620.00,270.00 622.50,271.33" fill="none" stroke="#ece020" stroke-width="1.2" stroke-linejoin="round" stroke-linecap="round"/>
<polyline points="656.25,272.17 659.17,270.50 662.08,272.17" fill="none" stroke="#ece020" stroke-width="1.2" stroke-linejoin="round" stroke-linecap="round"/>
<ellipse cx="613.75" cy="270.50" rx="1.50" ry="0.67" fill="#ece020"/>
<circle cx="629.33" cy="277.00" r="3.75" fill="url(#gs2)"/>
<circle cx="648.75" cy="277.00" r="3.75" fill="url(#gs2)"/>
<ellipse cx="617.92" cy="275.75" rx="2.17" ry="1.33" fill="#ece020"/>
<ellipse cx="638.75" cy="276.33" rx="3.83" ry="1.17" fill="#ece020"/>
<polyline points="635.00,275.92 638.75,274.42 642.50,275.92" fill="none" stroke="#ece020" stroke-width="1.1" stroke-linejoin="round" stroke-linecap="round"/>
<ellipse cx="659.17" cy="277.00" rx="2.50" ry="1.17" fill="#ece020"/>
<polyline points="634.17,277.17 637.50,278.50 640.83,277.17" fill="none" stroke="#ece020" stroke-width="1.0" stroke-linejoin="round" stroke-linecap="round"/>
<path d="M639.5833333333334,266.1666666666667 L634.9833333333333,270.8666666666667 M639.5833333333334,266.1666666666667 L643.9833333333333,270.8666666666667" stroke="#222" stroke-width="0.9" fill="none"/>
<line x1="639.5833333333334" y1="258.6" x2="639.5833333333334" y2="266.1666666666667" stroke="#777" stroke-width="0.9"/>
<circle cx="639.5833333333334" cy="266.1666666666667" r="1.8" fill="#1a1a1a"/>
<circle cx="639.5833333333334" cy="258.6" r="1.9" fill="#e8222a"/>
</g>
<rect x="521.5" y="239.3" width="180.5" height="159.7" fill="none" stroke="#3c3c3c" stroke-width="1"/>
<line x1="533.9" y1="399" x2="533.9" y2="403.8" stroke="#3c3c3c" stroke-width="1"/>
<line x1="586.1" y1="399" x2="586.1" y2="403.8" stroke="#3c3c3c" stroke-width="1"/>
<line x1="637.6" y1="399" x2="637.6" y2="403.8" stroke="#3c3c3c" stroke-width="1"/>
<line x1="690.0" y1="399" x2="690.0" y2="403.8" stroke="#3c3c3c" stroke-width="1"/>
<text x="524.2" y="416.1" font-size="9.15"><tspan font-size="7.5" dy="-1.3">*</tspan><tspan dy="1.3">+CO</tspan><tspan font-size="5.2" dy="0.6">2</tspan></text>
<text x="586.6" y="416.1" text-anchor="middle" font-size="9.15"><tspan font-size="7.5" dy="-1.3">*</tspan><tspan dy="1.3">COOH</tspan></text>
<text x="638.4" y="416.1" text-anchor="middle" font-size="9.15"><tspan font-size="7.5" dy="-1.3">*</tspan><tspan dy="1.3">CO</tspan></text>
<text x="678.9" y="416.1" font-size="9.15"><tspan font-size="7.5" dy="-1.3">*</tspan><tspan dy="1.3">+CO</tspan></text>
<line x1="516.7" y1="252.6" x2="521.5" y2="252.6" stroke="#3c3c3c" stroke-width="1"/>
<text x="510.70000000000005" y="255.79999999999998" text-anchor="end" font-size="9.15">1.0</text>
<line x1="516.7" y1="285.9" x2="521.5" y2="285.9" stroke="#3c3c3c" stroke-width="1"/>
<text x="510.70000000000005" y="289.09999999999997" text-anchor="end" font-size="9.15">0.5</text>
<line x1="516.7" y1="319.2" x2="521.5" y2="319.2" stroke="#3c3c3c" stroke-width="1"/>
<text x="510.70000000000005" y="322.4" text-anchor="end" font-size="9.15">0.0</text>
<line x1="516.7" y1="352.5" x2="521.5" y2="352.5" stroke="#3c3c3c" stroke-width="1"/>
<text x="510.70000000000005" y="355.7" text-anchor="end" font-size="9.15">−0.5</text>
<line x1="516.7" y1="385.79999999999995" x2="521.5" y2="385.79999999999995" stroke="#3c3c3c" stroke-width="1"/>
<text x="510.70000000000005" y="388.99999999999994" text-anchor="end" font-size="9.15">−1.0</text>
<text transform="translate(483.6,314) rotate(-90)" text-anchor="middle" font-size="9.3">Free energy (eV)</text>
<rect x="703.0" y="0" width="1.0" height="212" fill="#000"/>
<rect x="702.6" y="210" width="1.4" height="222" fill="#000"/>
<rect x="701.5" y="238.8" width="2.5" height="160.7" fill="#000"/>
</svg></body></html>
